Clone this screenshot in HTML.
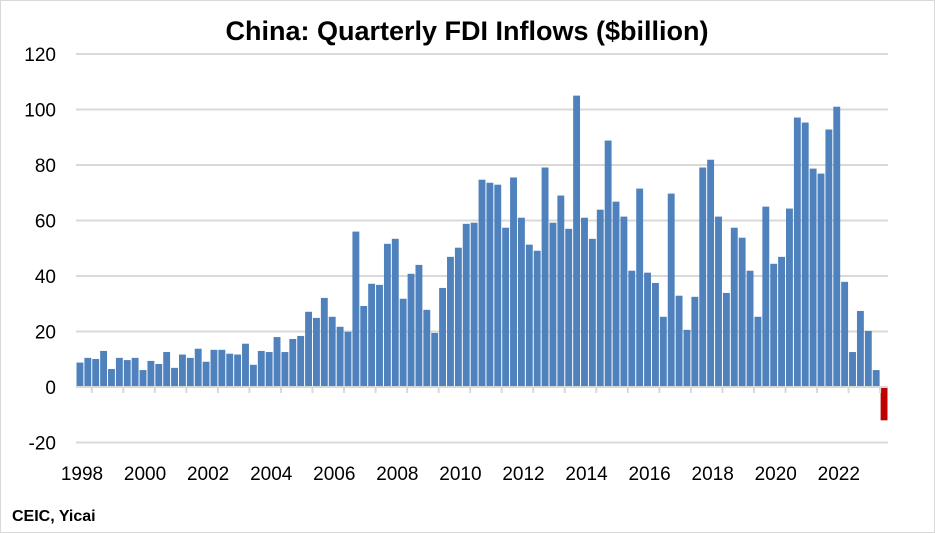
<!DOCTYPE html>
<html><head><meta charset="utf-8"><style>
body{margin:0;background:#fff;}
svg{display:block;font-family:"Liberation Sans",Calibri,sans-serif;}
</style></head><body>
<svg id="chart" width="935" height="533" viewBox="0 0 935 533" xmlns="http://www.w3.org/2000/svg">
<rect x="0.5" y="0.5" width="934" height="532" fill="#fff" stroke="#d9d9d9"/>
<text x="467" y="40" text-anchor="middle" font-size="27" font-weight="bold" fill="#000">China: Quarterly FDI Inflows ($billion)</text>
<g id="grid"></g>
<g id="yaxis"></g>
<g id="bars"></g>
<g id="xaxis"></g>
<text x="12" y="521" font-size="16" font-weight="bold" fill="#000">CEIC, Yicai</text>
</svg>
<script>
const values = [8.8,10.5,10.1,13,6.5,10.5,9.7,10.5,6.1,9.4,8.3,12.6,6.9,11.7,10.5,13.8,9.1,13.4,13.4,12,11.7,15.6,8,13,12.6,18,12.6,17.3,18.4,27.1,24.9,32.1,25.3,21.7,19.9,
56,29.2,37.2,36.8,51.6,53.4,31.8,40.8,44,27.8,19.5,35.7,46.9,50.2,58.8,59.2,74.7,73.6,72.9,57.4,75.5,61,51.3,49.1,79.1,59.2,69,57,105,61,53.4,63.9,88.8,66.8,61.4,41.9,71.5,
41.2,37.5,25.3,69.7,32.9,20.6,32.5,79.1,81.9,61.4,33.9,57.4,53.8,41.9,25.3,65,44.4,46.9,64.3,97.1,95.3,78.7,76.9,92.8,101,37.9,12.6,27.4,20.2,6.1,-12];
const yTicks = [120,100,80,60,40,20,0,-20];
const xLabels = ["1998","2000","2002","2004","2006","2008","2010","2012","2014","2016","2018","2020","2022"];
const NS="http://www.w3.org/2000/svg";
const x0=76, x1=888, bw=(x1-x0)/values.length;
const y=v=>387-v*2.775;
const xb=i=>x0+i*bw;
function mk(tag,attrs,parent){const e=document.createElementNS(NS,tag);for(const k in attrs)e.setAttribute(k,attrs[k]);parent.appendChild(e);return e;}
const grid=document.getElementById('grid'),ya=document.getElementById('yaxis'),bars=document.getElementById('bars'),xa=document.getElementById('xaxis');
yTicks.forEach(t=>{
  if(t!==0){const l=mk('line',{x1:x0,x2:x1,y1:y(t),y2:y(t),stroke:'#d9d9d9','stroke-width':2},grid);
  
  }
  const tx=mk('text',{x:56,y:y(t)+7,'text-anchor':'end','font-size':19,fill:'#000'},ya);
  tx.textContent=t;
  
  
});
values.forEach((v,i)=>{
  const top=Math.min(y(v),y(0)),h=Math.abs(y(v)-y(0));
  const r=mk('rect',{x:xb(i)+0.5,y:top,width:bw-1,height:h,fill:v<0?'#c00000':'#4f81bd'},bars);
  
  
});
const ax=mk('line',{x1:x0,x2:x1,y1:y(0),y2:y(0),stroke:'#d9d9d9','stroke-width':2},xa);


for(let k=0;4*k+2<values.length;k++){
  const tx=xb(4*k+2);
  const t=mk('line',{x1:tx,x2:tx,y1:y(0),y2:y(0)+6,stroke:'#d9d9d9','stroke-width':2},xa);
  
  
}
xLabels.forEach((s,k)=>{
  const t=mk('text',{x:xb(8*k)+6,y:480,'text-anchor':'middle','font-size':19,fill:'#000'},xa);
  t.textContent=s;
  
  
});
</script>
</body></html>
